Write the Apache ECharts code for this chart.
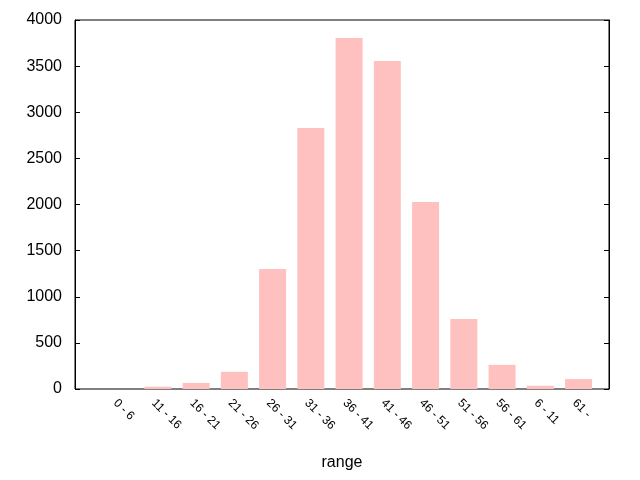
<!DOCTYPE html>
<html>
<head>
<meta charset="utf-8">
<script src="https://cdn.jsdelivr.net/npm/echarts@6/dist/echarts.min.js"></script>
<style>html,body{margin:0;padding:0;background:#fff}#c{width:640px;height:480px}</style>
</head>
<body>
<div id="c"></div>
<script>
const categories = ['0 - 6','11 - 16','16 - 21','21 - 26','26 - 31','31 - 36','36 - 41','41 - 46','46 - 51','51 - 56','56 - 61','6 - 11','61 -'];
const counts = [0, 25, 66, 186, 1300, 2830, 3805, 3555, 2027, 760, 262, 35, 108];
const yMin = 0, yMax = 4000, yStep = 500;
const xName = 'range';

const font = 'Liberation Sans, Arial, sans-serif';
const chart = echarts.init(document.getElementById('c'), null, {renderer: 'canvas'});
chart.setOption({
  animation: false,
  backgroundColor: '#fff',
  grid: [
    {left: 75, right: 31, top: 20, bottom: 91, show: true, borderColor: '#000', borderWidth: 1, backgroundColor: 'transparent'},
    {left: 100.5, right: 42.3, top: 20, bottom: 91}
  ],
  xAxis: [
    {gridIndex: 0, type: 'value', min: 0, max: 1, name: xName, nameLocation: 'middle', nameGap: 66,
     nameTextStyle: {fontFamily: font, fontSize: 16, color: '#000'},
     axisLine: {show: false}, axisTick: {show: false}, axisLabel: {show: false}, splitLine: {show: false}},
    {gridIndex: 1, type: 'category', data: categories, boundaryGap: true,
     axisLine: {show: false}, axisTick: {show: false}, splitLine: {show: false},
     axisLabel: {rotate: -45, align: 'left', verticalAlign: 'top', margin: 8, interval: 0,
       fontFamily: font, fontSize: 12, color: '#000'}}
  ],
  yAxis: [
    {gridIndex: 0, type: 'value', min: yMin, max: yMax, interval: yStep, position: 'left',
     axisLine: {show: true, lineStyle: {color: '#000'}},
     axisTick: {show: true, inside: true, length: 5, lineStyle: {color: '#000'}},
     axisLabel: {fontFamily: font, fontSize: 16, color: '#000', margin: 13, formatter: v => String(v)},
     splitLine: {show: false}},
    {gridIndex: 0, type: 'value', min: yMin, max: yMax, interval: yStep, position: 'right',
     axisLine: {show: true, lineStyle: {color: '#000'}},
     axisTick: {show: true, inside: true, length: 5, lineStyle: {color: '#000'}},
     axisLabel: {show: false}, splitLine: {show: false}},
    {gridIndex: 1, type: 'value', min: yMin, max: yMax, show: false}
  ],
  series: [{
    type: 'bar', xAxisIndex: 1, yAxisIndex: 2, data: counts, barWidth: 27,
    itemStyle: {color: '#ffc0c0'}
  }]
});
</script>
</body>
</html>
